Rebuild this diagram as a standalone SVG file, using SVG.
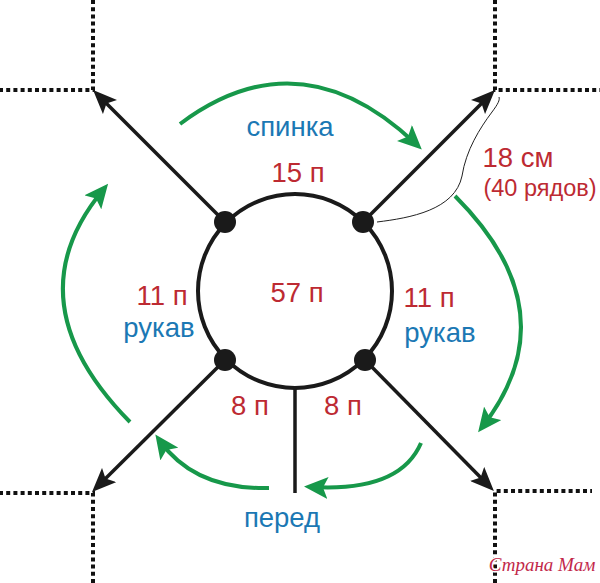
<svg xmlns="http://www.w3.org/2000/svg" width="600" height="583" viewBox="0 0 600 583">
<style>
.dot{stroke:#111;stroke-width:4;stroke-dasharray:4 3.2;fill:none}
.ray{stroke:#1a1a1a;stroke-width:3.5;fill:none;marker-end:url(#blk)}
.grn{stroke:#17984a;stroke-width:4;fill:none;marker-end:url(#grn)}
.red{font-family:"Liberation Sans",Arial,sans-serif;fill:#bd2a32;font-size:27.5px;text-anchor:middle}
.blue{font-family:"Liberation Sans",Arial,sans-serif;fill:#1b78b4;font-size:27.5px;text-anchor:middle}
</style>
<defs>
<marker id="blk" viewBox="0 0 24 20" refX="17" refY="10" markerWidth="24" markerHeight="20" markerUnits="userSpaceOnUse" orient="auto">
<path d="M0,0 L24,10 L0,20 L5,10 z" fill="#1a1a1a"/>
</marker>
<marker id="grn" viewBox="0 0 24 22" refX="16" refY="11" markerWidth="24" markerHeight="22" markerUnits="userSpaceOnUse" orient="auto">
<path d="M0,0 L24,11 L0,22 L5,11 z" fill="#17984a"/>
</marker>
</defs>
<rect width="600" height="583" fill="#fff"/>
<g id="grid">
<path class="dot" d="M93,0 V90 H0"/>
<path class="dot" d="M495,0 V90 H600"/>
<path class="dot" d="M93,583 V493 H0"/>
<path class="dot" d="M495,583 V491 H592"/>
</g>
<g id="connectors">
<path class="ray" d="M225,222 L98,95"/>
<path class="ray" d="M363,222 L490,95"/>
<path class="ray" d="M225,360 L97,487"/>
<path class="ray" d="M365,360 L489,486"/>
<path d="M295,389 V493" stroke="#1a1a1a" stroke-width="3.5" fill="none"/>
<path d="M377,222 C410,218 455,210 462,176 C466,150 480,128 492,112 C498,104 500,100 499,97" stroke="#222" stroke-width="1" fill="none"/>
<path class="grn" d="M180,124 Q300,34 416,144"/>
<path class="grn" d="M455,196 Q571,312 483,426"/>
<path class="grn" d="M421,443 Q400,492 312,487"/>
<path class="grn" d="M269,488 Q195,490 160,441"/>
<path class="grn" d="M130,422 Q11,301 103,190"/>
</g>
<g id="center">
<circle cx="295" cy="291" r="97" fill="none" stroke="#1a1a1a" stroke-width="4"/>
<circle cx="225" cy="222" r="11" fill="#1a1a1a"/>
<circle cx="363" cy="222" r="11" fill="#1a1a1a"/>
<circle cx="225" cy="360" r="11" fill="#1a1a1a"/>
<circle cx="365" cy="360" r="11" fill="#1a1a1a"/>
<text class="red" x="297" y="302">57 п</text>
</g>
<g id="labels">
<text class="blue" x="290" y="136">спинка</text>
<text class="red" x="298" y="182">15 п</text>
<text class="red" x="518" y="167">18 см</text>
<text class="red" x="540" y="196" style="font-size:23.5px">(40 рядов)</text>
<text class="red" x="162" y="305">11 п</text>
<text class="blue" x="159" y="337">рукав</text>
<text class="red" x="429" y="307">11 п</text>
<text class="blue" x="440" y="342">рукав</text>
<text class="red" x="250" y="415">8 п</text>
<text class="red" x="343" y="415">8 п</text>
<text class="blue" x="282" y="527">перед</text>
<text x="542" y="571" style="font-family:'Liberation Serif',serif;font-style:italic;font-size:19px;fill:#c2284a;stroke:#fff;stroke-width:3;paint-order:stroke;text-anchor:middle">Страна Мам</text>
</g>
</svg>
